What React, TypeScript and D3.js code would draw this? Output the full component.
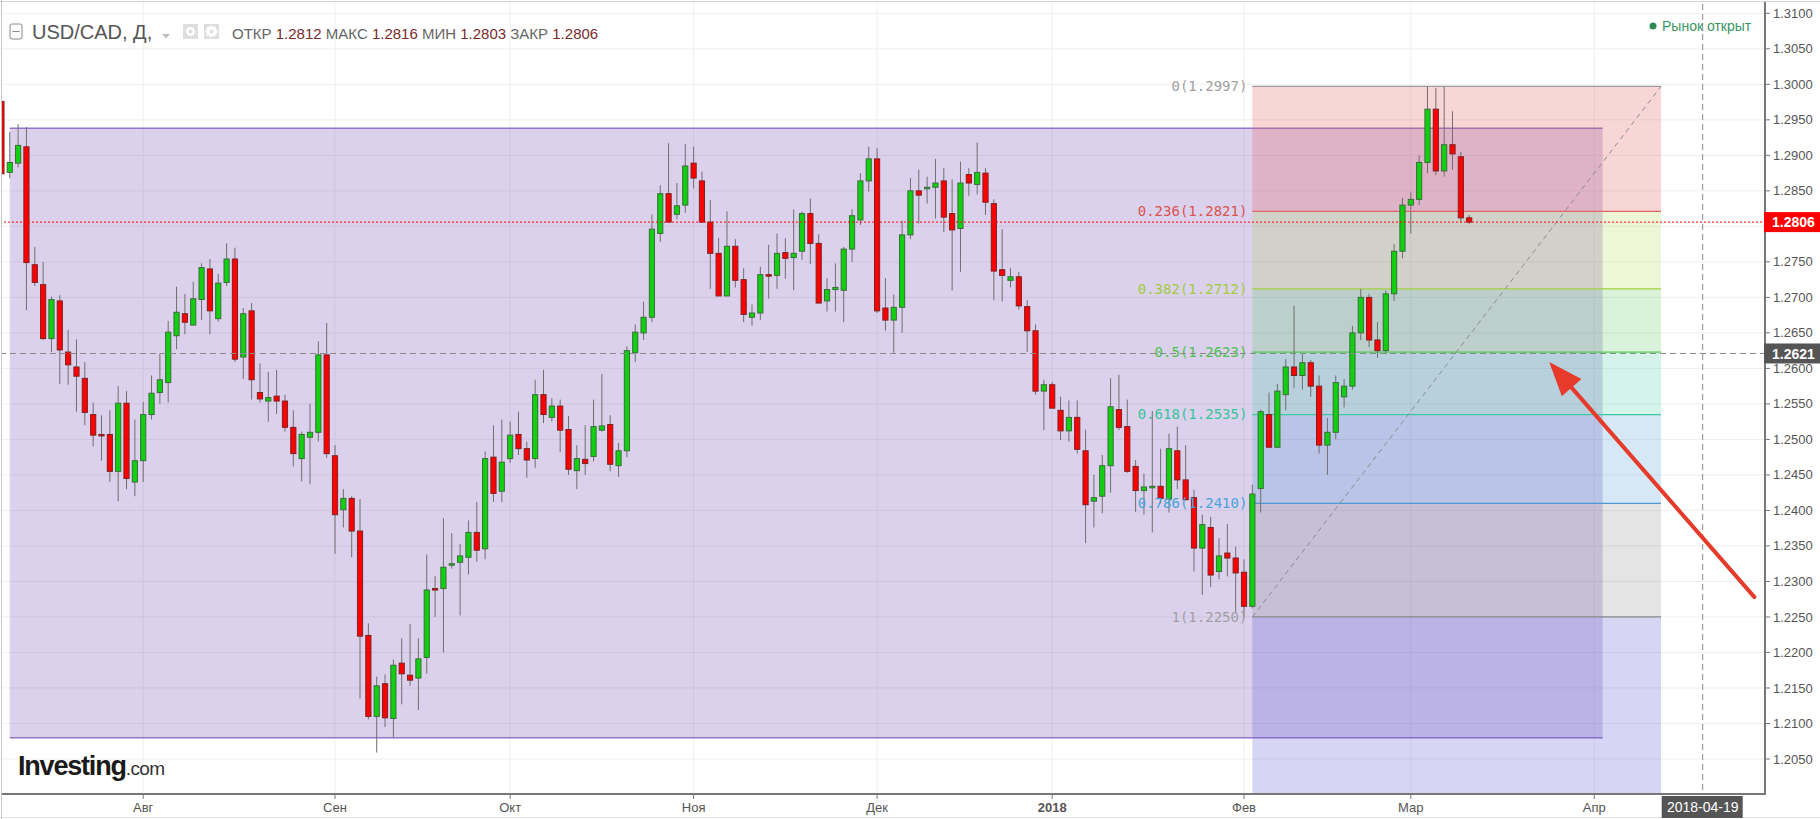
import React from "react";
import * as d3 from "d3";

const W = 1820;
const H = 819;

// daily candles, one per weekday starting at startDate
const startDate = "2017-07-07";

const opens = [
  1.2976, 1.2876, 1.2889, 1.2912, 1.2746, 1.2718, 1.2642, 1.2695, 1.2623, 1.2602, 1.2586, 1.2535, 1.2507, 1.2507, 1.2455, 1.2551, 1.2440,
  1.2470, 1.2535, 1.2566, 1.2580, 1.2646, 1.2677, 1.2661, 1.2697, 1.2740, 1.2670, 1.2721, 1.2754, 1.2616, 1.2681, 1.2566, 1.2554, 1.2561, 1.2554, 1.2517, 1.2473, 1.2503, 1.2510, 1.2619,
  1.2477, 1.2401, 1.2417, 1.2371, 1.2224, 1.2110, 1.2156, 1.2107, 1.2185, 1.2168, 1.2164, 1.2193, 1.2290, 1.2290, 1.2323, 1.2327, 1.2334, 1.2369, 1.2346, 1.2475, 1.2427,
  1.2473, 1.2507, 1.2487, 1.2473, 1.2563, 1.2531, 1.2547, 1.2514, 1.2456, 1.2472, 1.2476, 1.2513, 1.2521, 1.2463, 1.2484, 1.2622, 1.2650, 1.2672, 1.2790, 1.2846, 1.2817, 1.2830,
  1.2889, 1.2864, 1.2806, 1.2762, 1.2702, 1.2772, 1.2725, 1.2672, 1.2678, 1.2732, 1.2731, 1.2763, 1.2756, 1.2765, 1.2818, 1.2776, 1.2695, 1.2711, 1.2710, 1.2768, 1.2809, 1.2864,
  1.2895, 1.2685, 1.2668, 1.2686, 1.2788, 1.2850, 1.2853, 1.2855, 1.2864, 1.2818, 1.2797, 1.2873, 1.2859, 1.2875, 1.2832, 1.2739, 1.2724, 1.2729, 1.2687, 1.2653, 1.2568,
  1.2577, 1.2541, 1.2512, 1.2531, 1.2484, 1.2413, 1.2420, 1.2463, 1.2542, 1.2518, 1.2462, 1.2428, 1.2433, 1.2434, 1.2416, 1.2484, 1.2443, 1.2418, 1.2347, 1.2376, 1.2314, 1.2340, 1.2333,
  1.2313, 1.2265, 1.2431, 1.2535, 1.2489, 1.2563, 1.2602, 1.2590, 1.2608, 1.2575, 1.2492, 1.2510, 1.2560, 1.2575, 1.2650, 1.2700, 1.2640, 1.2625, 1.2705, 1.2765,
  1.2830, 1.2838, 1.2890, 1.2965, 1.2878, 1.2915, 1.2898, 1.2812,
];

const highs = [
  1.2980, 1.2933, 1.2944, 1.2940, 1.2771, 1.2750, 1.2701, 1.2703, 1.2654, 1.2641, 1.2609, 1.2552, 1.2534, 1.2541, 1.2575, 1.2568, 1.2528,
  1.2553, 1.2590, 1.2621, 1.2667, 1.2715, 1.2705, 1.2722, 1.2748, 1.2754, 1.2733, 1.2776, 1.2770, 1.2685, 1.2692, 1.2607, 1.2595, 1.2598, 1.2563, 1.2541, 1.2511, 1.2550, 1.2638, 1.2664,
  1.2492, 1.2430, 1.2420, 1.2416, 1.2241, 1.2166, 1.2169, 1.2190, 1.2220, 1.2240, 1.2220, 1.2338, 1.2308, 1.2389, 1.2368, 1.2353, 1.2386, 1.2412, 1.2483, 1.2520, 1.2528,
  1.2525, 1.2539, 1.2497, 1.2584, 1.2598, 1.2558, 1.2556, 1.2533, 1.2492, 1.2520, 1.2556, 1.2592, 1.2534, 1.2495, 1.2631, 1.2662, 1.2694, 1.2817, 1.2858, 1.2917, 1.2861, 1.2916,
  1.2912, 1.2877, 1.2837, 1.2784, 1.2821, 1.2782, 1.2741, 1.2690, 1.2743, 1.2774, 1.2790, 1.2783, 1.2824, 1.2821, 1.2839, 1.2789, 1.2727, 1.2748, 1.2771, 1.2824, 1.2875, 1.2912,
  1.2910, 1.2727, 1.2704, 1.2808, 1.2868, 1.2880, 1.2870, 1.2895, 1.2882, 1.2866, 1.2891, 1.2882, 1.2918, 1.2882, 1.2838, 1.2796, 1.2741, 1.2736, 1.2696, 1.2662, 1.2584,
  1.2581, 1.2560, 1.2555, 1.2555, 1.2514, 1.2450, 1.2478, 1.2586, 1.2591, 1.2556, 1.2471, 1.2452, 1.2540, 1.2487, 1.2508, 1.2518, 1.2492, 1.2429, 1.2394, 1.2391, 1.2361, 1.2381, 1.2349,
  1.2331, 1.2436, 1.2542, 1.2566, 1.2578, 1.2613, 1.2688, 1.2620, 1.2612, 1.2590, 1.2530, 1.2590, 1.2585, 1.2660, 1.2712, 1.2705, 1.2665, 1.2710, 1.2775, 1.2840,
  1.2848, 1.2900, 1.2997, 1.2995, 1.2997, 1.2962, 1.2905, 1.2816,
];

const lows = [
  1.2870, 1.2868, 1.2883, 1.2682, 1.2716, 1.2640, 1.2623, 1.2578, 1.2577, 1.2539, 1.2520, 1.2490, 1.2470, 1.2440, 1.2413, 1.2430, 1.2420,
  1.2440, 1.2528, 1.2550, 1.2552, 1.2627, 1.2648, 1.2661, 1.2668, 1.2648, 1.2666, 1.2716, 1.2609, 1.2585, 1.2556, 1.2552, 1.2525, 1.2536, 1.2511, 1.2462, 1.2441, 1.2437, 1.2497, 1.2474,
  1.2339, 1.2376, 1.2334, 1.2135, 1.2106, 1.2059, 1.2095, 1.2080, 1.2127, 1.2153, 1.2119, 1.2170, 1.2250, 1.2200, 1.2318, 1.2252, 1.2310, 1.2328, 1.2331, 1.2412, 1.2412,
  1.2467, 1.2478, 1.2446, 1.2460, 1.2523, 1.2525, 1.2482, 1.2450, 1.2430, 1.2450, 1.2469, 1.2511, 1.2455, 1.2447, 1.2475, 1.2609, 1.2640, 1.2665, 1.2778, 1.2806, 1.2810, 1.2819,
  1.2853, 1.2805, 1.2712, 1.2702, 1.2702, 1.2714, 1.2665, 1.2660, 1.2668, 1.2698, 1.2712, 1.2726, 1.2710, 1.2753, 1.2747, 1.2692, 1.2680, 1.2680, 1.2665, 1.2750, 1.2802, 1.2849,
  1.2678, 1.2653, 1.2622, 1.2650, 1.2782, 1.2804, 1.2832, 1.2811, 1.2792, 1.2710, 1.2736, 1.2843, 1.2845, 1.2816, 1.2696, 1.2694, 1.2714, 1.2683, 1.2623, 1.2563, 1.2513,
  1.2544, 1.2499, 1.2497, 1.2480, 1.2354, 1.2376, 1.2396, 1.2425, 1.2513, 1.2453, 1.2398, 1.2394, 1.2369, 1.2410, 1.2397, 1.2430, 1.2415, 1.2314, 1.2281, 1.2292, 1.2303, 1.2307, 1.2257,
  1.2250, 1.2262, 1.2397, 1.2489, 1.2489, 1.2541, 1.2572, 1.2570, 1.2560, 1.2480, 1.2450, 1.2500, 1.2545, 1.2570, 1.2640, 1.2630, 1.2615, 1.2620, 1.2695, 1.2755,
  1.2790, 1.2830, 1.2875, 1.2872, 1.2870, 1.2880, 1.2805, 1.2803,
];

const closes = [
  1.2874, 1.2890, 1.2914, 1.2749, 1.2721, 1.2642, 1.2697, 1.2626, 1.2605, 1.2589, 1.2538, 1.2506, 1.2505, 1.2455, 1.2551, 1.2445, 1.2470,
  1.2535, 1.2565, 1.2584, 1.2651, 1.2679, 1.2665, 1.2698, 1.2742, 1.2681, 1.2720, 1.2754, 1.2613, 1.2677, 1.2584, 1.2557, 1.2559, 1.2554, 1.2517, 1.2480, 1.2507, 1.2510, 1.2619, 1.2480,
  1.2394, 1.2417, 1.2371, 1.2223, 1.2110, 1.2153, 1.2108, 1.2182, 1.2170, 1.2161, 1.2191, 1.2288, 1.2288, 1.2320, 1.2325, 1.2336, 1.2369, 1.2344, 1.2473, 1.2424, 1.2468,
  1.2506, 1.2487, 1.2471, 1.2563, 1.2535, 1.2547, 1.2513, 1.2458, 1.2473, 1.2466, 1.2518, 1.2519, 1.2465, 1.2484, 1.2625, 1.2651, 1.2672, 1.2796, 1.2846, 1.2806, 1.2829, 1.2885,
  1.2868, 1.2806, 1.2762, 1.2702, 1.2772, 1.2724, 1.2676, 1.2678, 1.2732, 1.2731, 1.2762, 1.2755, 1.2762, 1.2818, 1.2776, 1.2692, 1.2711, 1.2714, 1.2768, 1.2815, 1.2864, 1.2895,
  1.2681, 1.2668, 1.2686, 1.2788, 1.2850, 1.2844, 1.2855, 1.2861, 1.2813, 1.2795, 1.2861, 1.2861, 1.2876, 1.2834, 1.2737, 1.2731, 1.2729, 1.2688, 1.2653, 1.2568, 1.2577,
  1.2544, 1.2512, 1.2531, 1.2486, 1.2408, 1.2418, 1.2463, 1.2546, 1.2517, 1.2455, 1.2428, 1.2433, 1.2434, 1.2417, 1.2487, 1.2443, 1.2415, 1.2347, 1.2380, 1.2309, 1.2336, 1.2333, 1.2312,
  1.2265, 1.2423, 1.2539, 1.2489, 1.2568, 1.2602, 1.2590, 1.2608, 1.2575, 1.2492, 1.2510, 1.2580, 1.2575, 1.2650, 1.2700, 1.2640, 1.2625, 1.2705, 1.2765, 1.2830,
  1.2838, 1.2890, 1.2965, 1.2878, 1.2915, 1.2902, 1.2812, 1.2806,
];

// bottom axis
const monthStarts = ["2017-08-01", "2017-09-01", "2017-10-02", "2017-11-01", "2017-12-01", "2018-01-01", "2018-02-01", "2018-03-01", "2018-04-02"];
const monthLabels = ["Авг", "Сен", "Окт", "Ноя", "Дек", "2018", "Фев", "Мар", "Апр"];

// purple rectangle drawing
const boxDates = ["2017-07-10", "2018-04-03"];
const boxPrices = [1.2080, 1.2938];

// fibonacci retracement
const fibDates = ["2018-02-02", "2018-04-12"];
const fibRatios = ["0", "0.236", "0.382", "0.5", "0.618", "0.786", "1"];
const fibPrices = [1.2997, 1.2821, 1.2712, 1.2623, 1.2535, 1.2410, 1.2250];
const fibExtPrice = 1.1788;
const fibLineColors = ["#9a9a9a", "#e06666", "#a4cf3c", "#55cc55", "#3ec9a2", "#4f98d2", "#8a8a8a"];
const fibTextColors = ["#a0a0a0", "#d9534f", "#a2cc3a", "#4cc24c", "#35c59a", "#4aa3dc", "#a0a0a0"];
const fibFills = [
  "rgba(230,90,90,0.25)",
  "rgba(170,210,60,0.2)",
  "rgba(76,200,80,0.22)",
  "rgba(60,200,160,0.22)",
  "rgba(70,150,210,0.22)",
  "rgba(120,120,120,0.2)",
  "rgba(90,90,210,0.25)",
];

const lastPrice = 1.2806;
const crossPrice = 1.2621;
const crossDate = "2018-04-19";

// red arrow annotation, in (weekday index, price)
const arrowFrom = [210.2, 1.2278];
const arrowTo = [185.6, 1.2609];

const ohlcLabels = ["ОТКР", "МАКС", "МИН", "ЗАКР"];
const ohlcValues = ["1.2812", "1.2816", "1.2803", "1.2806"];

const parse = d3.utcParse("%Y-%m-%d");
const days: Date[] = [];
{
  let d = parse(startDate) as Date;
  while (days.length < 240) {
    if (d.getUTCDay() % 6 !== 0) days.push(d);
    d = d3.utcDay.offset(d, 1);
  }
}
const idxOf = (s: string) => days.findIndex((x) => +x === +(parse(s) as Date));

const plotRight = 1765;
const plotBottom = 794;

const x = d3.scaleLinear().domain([idxOf("2017-08-01"), idxOf(crossDate)]).range([143.2, 1702.7]);
const y = d3.scaleLinear().domain([1.205, 1.31]).range([759, 13.3]);
const priceTicks = d3.range(1.205, 1.3101, 0.005);

const font = "'Liberation Sans', Arial, sans-serif";

export default function App() {
  const step = x(1) - x(0);
  const bw = step * 0.62;

  const candles = opens.map((o, i) => ({
    i,
    o,
    h: highs[i],
    l: lows[i],
    c: closes[i],
  }));

  const fx0 = x(idxOf(fibDates[0]));
  const fx1 = x(idxOf(fibDates[1]));
  const bandEdges = [...fibPrices, fibExtPrice];

  const ax0 = x(arrowFrom[0]);
  const ay0 = y(arrowFrom[1]);
  const ax1 = x(arrowTo[0]);
  const ay1 = y(arrowTo[1]);
  const len = Math.hypot(ax1 - ax0, ay1 - ay0);
  const ux = (ax1 - ax0) / len;
  const uy = (ay1 - ay0) / len;
  const headL = 34;
  const headW = 13;
  const bx = ax1 - ux * headL;
  const by = ay1 - uy * headL;
  const head = [
    [ax1, ay1],
    [bx - uy * headW, by + ux * headW],
    [bx + uy * headW, by - ux * headW],
  ];

  const cx = x(idxOf(crossDate));
  // the red last-price tag hides the tick label under it
  const axisTicks = priceTicks.filter((p) => Math.abs(y(p) - y(lastPrice)) > 8);

  return (
    <svg
      width={W}
      height={H}
      style={{ position: "absolute", left: 0, top: 0, background: "#fff" }}
      fontFamily={font}
    >
      <defs>
        <clipPath id="plot">
          <rect x={2} y={2} width={plotRight - 2} height={plotBottom - 2} />
        </clipPath>
      </defs>
      <rect width={W} height={H} fill="#fff" />

      <g clipPath="url(#plot)">
        {/* grid */}
        {priceTicks.map((p) => (
          <line key={"g" + p} x1={0} x2={plotRight} y1={y(p)} y2={y(p)} stroke="#efefef" />
        ))}
        {monthStarts.map((m) => (
          <line key={"v" + m} x1={x(idxOf(m))} x2={x(idxOf(m))} y1={0} y2={plotBottom} stroke="#efefef" />
        ))}

        {/* purple box */}
        <rect
          x={x(idxOf(boxDates[0]))}
          width={x(idxOf(boxDates[1])) - x(idxOf(boxDates[0]))}
          y={y(boxPrices[1])}
          height={y(boxPrices[0]) - y(boxPrices[1])}
          fill="rgba(110,70,185,0.25)"
        />
        {boxPrices.map((p) => (
          <line
            key={"b" + p}
            x1={x(idxOf(boxDates[0]))}
            x2={x(idxOf(boxDates[1]))}
            y1={y(p)}
            y2={y(p)}
            stroke="#9574cc"
            strokeWidth={1.5}
          />
        ))}

        {/* fib bands */}
        {fibFills.map((f, k) => (
          <rect
            key={"f" + k}
            x={fx0}
            width={fx1 - fx0}
            y={y(bandEdges[k])}
            height={y(bandEdges[k + 1]) - y(bandEdges[k])}
            fill={f}
          />
        ))}
        {fibPrices.map((p, k) => (
          <line key={"fl" + k} x1={fx0} x2={fx1} y1={y(p)} y2={y(p)} stroke={fibLineColors[k]} strokeWidth={1.3} />
        ))}
        <line
          x1={fx0}
          y1={y(fibPrices[6])}
          x2={fx1}
          y2={y(fibPrices[0])}
          stroke="#8c8c8c"
          strokeDasharray="5,4"
        />

        {/* candles */}
        {candles.map((d) => {
          const up = d.c >= d.o;
          const cxp = x(d.i);
          const top = y(Math.max(d.o, d.c));
          const bot = y(Math.min(d.o, d.c));
          return (
            <g key={"c" + d.i}>
              <line x1={cxp} x2={cxp} y1={y(d.h)} y2={y(d.l)} stroke="#6f6f6f" />
              <rect
                x={cxp - bw / 2}
                y={top}
                width={bw}
                height={Math.max(bot - top, 1.5)}
                fill={up ? "#10d010" : "#ff0000"}
                stroke={up ? "#3a6e3a" : "#7e2222"}
                strokeWidth={1}
              />
            </g>
          );
        })}

        {/* fib labels */}
        {fibPrices.map((p, k) => (
          <text
            key={"ft" + k}
            x={fx0 - 5}
            y={y(p)}
            dy="0.35em"
            textAnchor="end"
            fontFamily="'DejaVu Sans Mono', monospace"
            fontSize={14}
            fill={fibTextColors[k]}
          >
            {fibRatios[k]}({p.toFixed(4)})
          </text>
        ))}

        {/* last price + crosshair */}
        <line x1={0} x2={plotRight} y1={y(lastPrice)} y2={y(lastPrice)} stroke="#ff0000" strokeDasharray="2,2" />
        <line x1={0} x2={plotRight} y1={y(crossPrice)} y2={y(crossPrice)} stroke="#8a8a8a" strokeDasharray="6,4" />
        <line x1={cx} x2={cx} y1={4} y2={plotBottom} stroke="#8a8a8a" strokeDasharray="6,4" />

        {/* arrow */}
        <line x1={ax0} y1={ay0} x2={bx + ux * 4} y2={by + uy * 4} stroke="#e63a2a" strokeWidth={4} strokeLinecap="round" />
        <polygon points={head.map((p) => p.join(",")).join(" ")} fill="#e63a2a" />
      </g>

      {/* frame */}
      <line x1={0} x2={W} y1={1.5} y2={1.5} stroke="#d0d0d0" />
      <line x1={1.5} x2={1.5} y1={0} y2={H} stroke="#c8c8c8" />
      <line x1={0} x2={W} y1={817.5} y2={817.5} stroke="#e2e2e2" />

      {/* right axis */}
      <line x1={plotRight} x2={plotRight} y1={2} y2={plotBottom + 1} stroke="#777" strokeWidth={2} />
      {priceTicks.map((p) => (
        <line key={"pk" + p} x1={plotRight} x2={plotRight + 5} y1={y(p)} y2={y(p)} stroke="#777" />
      ))}
      {axisTicks.map((p) => (
        <text key={"pt" + p} x={1773} y={y(p)} dy="0.35em" fontSize={13} fill="#555">
          {p.toFixed(4)}
        </text>
      ))}

      {/* bottom axis */}
      <line x1={2} x2={plotRight} y1={plotBottom} y2={plotBottom} stroke="#777" strokeWidth={2} />
      {monthStarts.map((m, k) => (
        <g key={"mt" + m}>
          <line x1={x(idxOf(m))} x2={x(idxOf(m))} y1={plotBottom} y2={plotBottom + 5} stroke="#777" />
          <text
            x={x(idxOf(m))}
            y={812}
            textAnchor="middle"
            fontSize={13}
            fill="#555"
            fontWeight={monthLabels[k] === "2018" ? "bold" : "normal"}
          >
            {monthLabels[k]}
          </text>
        </g>
      ))}

      {/* price tags */}
      <rect x={1764} y={y(lastPrice) - 10} width={56} height={20} fill="#ff0000" />
      <text x={1772} y={y(lastPrice)} dy="0.36em" fontSize={14} fontWeight="bold" fill="#fff">
        {lastPrice.toFixed(4)}
      </text>
      <rect x={1764} y={y(crossPrice) - 10} width={56} height={20} fill="#555" />
      <text x={1772} y={y(crossPrice)} dy="0.36em" fontSize={14} fontWeight="bold" fill="#fff">
        {crossPrice.toFixed(4)}
      </text>
      <rect x={cx - 41} y={796} width={81} height={22} fill="#555" />
      <text x={cx} y={807} dy="0.36em" textAnchor="middle" fontSize={14} fill="#fff">
        {crossDate}
      </text>

      {/* header */}
      <rect x={10} y={24} width={12} height={15} rx={2} fill="#fff" stroke="#8a8a8a" />
      <line x1={12.5} x2={19.5} y1={31.5} y2={31.5} stroke="#8a8a8a" />
      <text x={32} y={39} fontSize={20} fill="#555">
        USD/CAD, Д,
      </text>
      <polygon points="162,34 170,34 166,38.5" fill="#bdbdbd" />
      <rect x={183} y={24} width={15} height={15} fill="#dedede" />
      <circle cx={190.5} cy={31.5} r={4.5} fill="#fff" />
      <circle cx={190.5} cy={31.5} r={2} fill="#dedede" />
      <rect x={204} y={24} width={15} height={15} fill="#dedede" />
      <circle cx={211.5} cy={31.5} r={5} fill="#fff" strokeDasharray="2,1.6" stroke="#fff" strokeWidth={2} />
      <circle cx={211.5} cy={31.5} r={2} fill="#dedede" />
      <text x={232} y={39} fontSize={15}>
        {ohlcLabels.map((l, k) => (
          <React.Fragment key={l}>
            <tspan fill="#666">{(k ? " " : "") + l + " "}</tspan>
            <tspan fill="#7a2b2b">{ohlcValues[k]}</tspan>
          </React.Fragment>
        ))}
      </text>
      <circle cx={1653} cy={26} r={3.5} fill="#2e8b57" />
      <text x={1662} y={31} fontSize={14} fill="#3a9663">
        Рынок открыт
      </text>

      {/* logo */}
      <text x={18} y={775} fontSize={27} fontWeight="bold" fill="#1a1a1a" letterSpacing={-1.2}>
        Investing
        <tspan fontSize={19} fontWeight="normal" letterSpacing={-0.6} fill="#333">
          .com
        </tspan>
      </text>
    </svg>
  );
}
